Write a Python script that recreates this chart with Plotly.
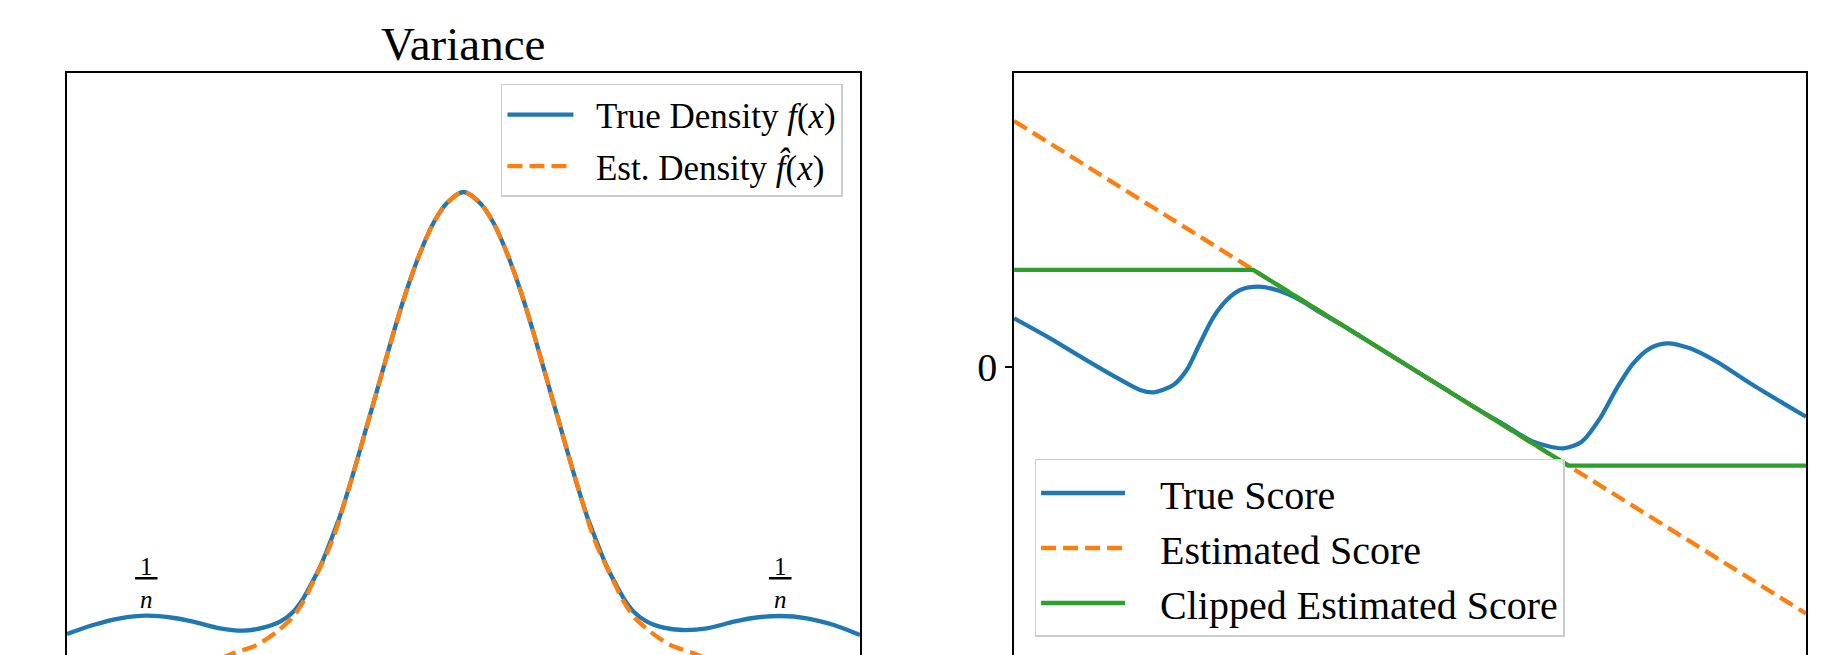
import plotly.graph_objects as go

# ---------------- Left panel: densities ----------------
dens_x_true = [-5.0, -4.67, -4.33, -4.0, -3.65, -3.41, -3.071, -2.777, -2.525, -2.314, -2.146, -2.02,
               -1.914, -1.81, -1.725, -1.642, -1.557, -1.39, -1.221, -1.053, -0.885, -0.716, -0.549,
               -0.381, -0.212, 0.0,
               0.212, 0.381, 0.549, 0.716, 0.885, 1.053, 1.221, 1.39, 1.557, 1.642, 1.725, 1.81,
               1.914, 2.02, 2.146, 2.314, 2.525, 2.76, 3.071, 3.41, 3.65, 3.99, 4.33, 4.67, 5.0]
dens_y_true = [0.066, 0.075, 0.0817, 0.0843, 0.082, 0.0783, 0.0717, 0.0693, 0.0723, 0.0783, 0.0883, 0.1017,
               0.1167, 0.133, 0.149, 0.166, 0.184, 0.2267, 0.2733, 0.32, 0.3667, 0.41, 0.4467,
               0.4767, 0.4967, 0.508,
               0.4967, 0.4767, 0.4467, 0.41, 0.3667, 0.32, 0.2733, 0.2267, 0.184, 0.166, 0.149, 0.133,
               0.1167, 0.1017, 0.0883, 0.0783, 0.0723, 0.07, 0.0717, 0.0783, 0.082, 0.084, 0.0817, 0.075, 0.065]

dens_x_est = [-3.3, -2.903, -2.608, -2.356, -2.166, -2.02, -1.894, -1.788, -1.683, -1.599, -1.557,
              -1.39, -1.221, -1.053, -0.885, -0.716, -0.549, -0.381, -0.212, 0.0,
              0.212, 0.381, 0.549, 0.716, 0.885, 1.053, 1.221, 1.39,
              1.557, 1.599, 1.683, 1.788, 1.894, 2.02, 2.166, 2.356, 2.608, 2.903, 3.3]
dens_y_est = [0.033, 0.0467, 0.055, 0.0683, 0.0817, 0.0983, 0.1183, 0.136, 0.154, 0.172, 0.183,
              0.2267, 0.2733, 0.32, 0.3667, 0.41, 0.4467, 0.4767, 0.4967, 0.508,
              0.4967, 0.4767, 0.4467, 0.41, 0.3667, 0.32, 0.2733, 0.2267,
              0.183, 0.172, 0.154, 0.136, 0.1183, 0.0983, 0.0817, 0.0683, 0.055, 0.0467, 0.033]

bump_x = [-4.0, 4.0]
bump_label_y = [0.1175, 0.1175]

# ---------------- Right panel: scores ----------------
score_x_true = [-5.0, -4.545, -4.125, -3.703, -3.409, -3.232, -2.989, -2.82, -2.652, -2.484, -2.314,
                -2.146, -1.915, -1.683, -1.389, -1.136, -0.8, -0.4, 0.0, 0.4, 0.8, 1.136, 1.263,
                1.557, 1.936, 2.168, 2.399, 2.61, 2.819, 3.03, 3.241, 3.535, 3.872, 4.293, 4.713, 5.0]
score_y_true = [0.99, 0.583, 0.177, -0.217, -0.467, -0.514, -0.366, -0.061, 0.482, 1.01, 1.362,
                1.565, 1.632, 1.565, 1.362, 1.11, 0.796, 0.396, -0.005, -0.405, -0.805, -1.12, -1.246,
                -1.518, -1.652, -1.518, -1.043, -0.433, 0.075, 0.38, 0.482, 0.38, 0.108, -0.331, -0.738, -1.01]

score_x_est = [-5.0, 5.0]
score_y_est = [5.0, -5.01]

score_x_clip = [-5.0, -1.98, 2.0, 5.0]
score_y_clip = [1.975, 1.975, -2.005, -2.005]

score_ticks = [0]
score_ticktext = ["0"]

BLUE = "#1f77b4"
ORANGE = "#ff7f0e"
GREEN = "#2ca02c"
FONT = "Liberation Serif"
LW = 4.3
DASH = "15px,7px"
GAP2 = "\u00a0\u00a0"
GAP3 = "\u00a0\u00a0\u00a0"

fig = go.Figure()

fig.add_trace(go.Scatter(x=dens_x_true, y=dens_y_true, mode="lines",
                         line=dict(color=BLUE, width=LW, shape="spline", smoothing=0.8),
                         name=GAP2 + "True Density <i>f</i>(<i>x</i>)", legend="legend", legendgroup="a",
                         xaxis="x", yaxis="y"))
fig.add_trace(go.Scatter(x=dens_x_est, y=dens_y_est, mode="lines",
                         line=dict(color=ORANGE, width=LW, dash=DASH, shape="spline", smoothing=0.8),
                         name=GAP2 + "Est. Density <i>f\u0302</i>(<i>x</i>)", legend="legend", legendgroup="b",
                         xaxis="x", yaxis="y"))

fig.add_trace(go.Scatter(x=score_x_true, y=score_y_true, mode="lines",
                         line=dict(color=BLUE, width=LW, shape="spline", smoothing=0.8),
                         name=GAP3 + "True Score", legend="legend2", legendgroup="c", xaxis="x2", yaxis="y2"))
fig.add_trace(go.Scatter(x=score_x_est, y=score_y_est, mode="lines", line=dict(color=ORANGE, width=LW, dash=DASH),
                         name=GAP3 + "Estimated Score", legend="legend2", legendgroup="d", xaxis="x2", yaxis="y2"))
fig.add_trace(go.Scatter(x=score_x_clip, y=score_y_clip, mode="lines", line=dict(color=GREEN, width=LW),
                         name=GAP3 + "Clipped Estimated Score", legend="legend2", legendgroup="e",
                         xaxis="x2", yaxis="y2"))

# 1/n labels over the side bumps
for bx, by in zip(bump_x, bump_label_y):
    fig.add_annotation(x=bx, y=by, xref="x", yref="y", showarrow=False,
                       text="<u>\u20091\u2009</u><br><i>n</i>",
                       font=dict(family=FONT, size=25, color="black"))

fig.add_annotation(x=0.5, y=1, xref="x domain", yref="y domain", yanchor="bottom", showarrow=False,
                   text="Variance", font=dict(family=FONT, size=47, color="black"), yshift=1)

axis_common = dict(showline=True, linecolor="black", linewidth=1.5, showgrid=False, zeroline=False)

fig.update_layout(
    width=1832, height=655,
    margin=dict(l=59, r=34, t=65, b=0),
    paper_bgcolor="white", plot_bgcolor="white",
    font=dict(family=FONT, color="black"),
    showlegend=True,
    xaxis=dict(domain=[0, 0.456], range=[-5, 5], side="top", showticklabels=False, ticks="", **axis_common),
    yaxis=dict(domain=[0, 1], range=[0.037, 0.627], mirror=True, showticklabels=False, ticks="", **axis_common),
    xaxis2=dict(domain=[0.5446, 1], range=[-5, 5], side="top", showticklabels=False, ticks="", anchor="y2", **axis_common),
    yaxis2=dict(domain=[0, 1], range=[-6.016, 5.976], mirror=True, anchor="x2", tickvals=score_ticks,
                ticktext=score_ticktext, ticks="outside", ticklen=7, tickwidth=1.5, tickcolor="black",
                tickfont=dict(family=FONT, size=40, color="black"), **axis_common),
    legend=dict(x=0.4462, y=0.9814, xanchor="right", yanchor="top", bgcolor="rgba(255,255,255,0.8)",
                bordercolor="#cccccc", borderwidth=1.5, font=dict(family=FONT, size=35, color="black"),
                tracegroupgap=3, traceorder="grouped", itemwidth=66),
    legend2=dict(x=0.5564, y=0.3458, xanchor="left", yanchor="top", bgcolor="rgba(255,255,255,0.8)",
                 bordercolor="#cccccc", borderwidth=1.5, font=dict(family=FONT, size=40, color="black"),
                 tracegroupgap=0, traceorder="grouped", itemwidth=84),
)

fig.write_html("out.html")
